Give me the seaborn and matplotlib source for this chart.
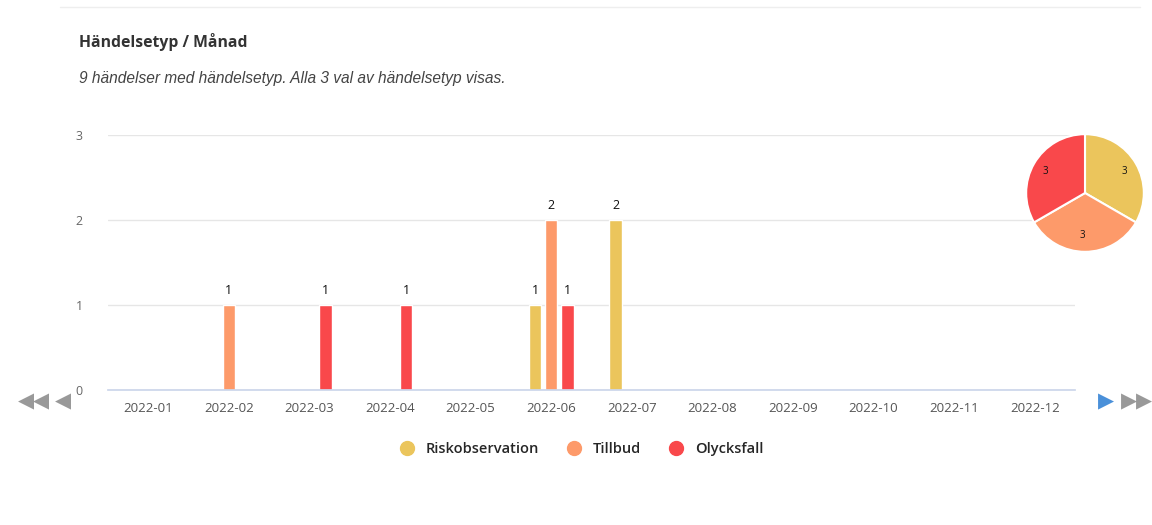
import numpy as np
import pandas as pd
import matplotlib
matplotlib.use("Agg")
import matplotlib.pyplot as plt
import seaborn as sns

# Data
months = ["2022-01", "2022-02", "2022-03", "2022-04", "2022-05", "2022-06",
          "2022-07", "2022-08", "2022-09", "2022-10", "2022-11", "2022-12"]
types = ["Riskobservation", "Tillbud", "Olycksfall"]
riskobservation = [0, 0, 0, 0, 0, 1, 2, 0, 0, 0, 0, 0]
tillbud = [0, 1, 0, 0, 0, 2, 0, 0, 0, 0, 0, 0]
olycksfall = [0, 0, 1, 1, 0, 1, 0, 0, 0, 0, 0, 0]
colors = ["#EBC55C", "#FD9A6A", "#F9484B"]

title = "Händelsetyp / Månad"
subtitle = "9 händelser med händelsetyp. Alla 3 val av händelsetyp visas."

# long format for seaborn
df = pd.DataFrame({
    "Månad": months * 3,
    "Typ": [types[0]] * 12 + [types[1]] * 12 + [types[2]] * 12,
    "Antal": riskobservation + tillbud + olycksfall,
})
totals = [sum(riskobservation), sum(tillbud), sum(olycksfall)]

sns.set_theme(style="white")
plt.rcParams['font.family'] = ['Open Sans', 'DejaVu Sans']

W, H = 1152, 525
fig = plt.figure(figsize=(W / 100, H / 100), dpi=100)
fig.patch.set_facecolor("white")

# main bar chart
ax = fig.add_axes([108 / W, 1 - 390 / H, (1075 - 108) / W, (390 - 135) / H])
sns.barplot(data=df, x="Månad", y="Antal", hue="Typ", hue_order=types,
            palette=colors, width=0.6, gap=0.22, ax=ax, legend=False,
            saturation=1, errorbar=None)

ax.set_ylim(0, 3)
ax.set_xlim(-0.5, 11.5)
ax.set_yticks([0, 1, 2, 3])
ax.set_xlabel("")
ax.set_ylabel("")
ax.yaxis.grid(True, color="#E6E6E6", linewidth=1)
ax.set_axisbelow(True)
for s in ["top", "right", "left"]:
    ax.spines[s].set_visible(False)
ax.spines["bottom"].set_color("#CCD6EB")
ax.tick_params(axis="y", length=0, pad=18, labelsize=9, labelcolor="#666666")
ax.tick_params(axis="x", length=0, pad=9, labelsize=9.5, labelcolor="#555555")

for cont in ax.containers:
    labels = [str(int(b.get_height())) if b.get_height() > 0 else "" for b in cont]
    ax.bar_label(cont, labels=labels, padding=6, fontsize=9, color="#111111")

# pie
pax = fig.add_axes([1025 / W, 1 - 253 / H, 120 / W, 120 / H])
wedges, texts = pax.pie(totals, colors=colors, startangle=90, counterclock=False,
                        labels=[str(t) for t in totals], labeldistance=0.72,
                        wedgeprops=dict(edgecolor="white", linewidth=1.5),
                        textprops=dict(fontsize=7, color="#111111"))
pax.set_xlim(-1.02, 1.02)
pax.set_ylim(-1.02, 1.02)
pax.set_aspect("equal")

# titles
fig.text(79 / W, 1 - 42 / H, title, fontsize=11.3, fontweight="bold",
         color="#333333", va="center", ha="left")
fig.text(79 / W, 1 - 79 / H, subtitle, fontsize=11.2, style="italic",
         color="#444444", va="center", ha="left",
         family=["Liberation Sans", "DejaVu Sans"])

# faint top rule
fig.add_artist(plt.Line2D([60 / W, 1140 / W], [1 - 7 / H, 1 - 7 / H],
                          color="#EEEEEE", linewidth=1))

# legend
handles = [plt.Line2D([], [], marker="o", linestyle="", markersize=10,
                      markerfacecolor=c, markeredgecolor=c) for c in colors]
fig.legend(handles, types, loc="center", bbox_to_anchor=(578 / W, 1 - 449 / H),
           ncol=3, frameon=False, handletextpad=0.3,
           columnspacing=1.4, prop=dict(weight="semibold", size=10.5))

# navigation arrows
fig.text(34 / W, 1 - 401 / H, "◀◀", fontsize=15, color="#999999",
         ha="center", va="center", family=["DejaVu Sans"])
fig.text(63 / W, 1 - 401 / H, "◀", fontsize=15, color="#999999",
         ha="center", va="center", family=["DejaVu Sans"])
fig.text(1106 / W, 1 - 401 / H, "▶", fontsize=15, color="#4A90D9",
         ha="center", va="center", family=["DejaVu Sans"])
fig.text(1137 / W, 1 - 401 / H, "▶▶", fontsize=15, color="#999999",
         ha="center", va="center", family=["DejaVu Sans"])

fig.savefig("out.png", dpi=100, facecolor="white")
